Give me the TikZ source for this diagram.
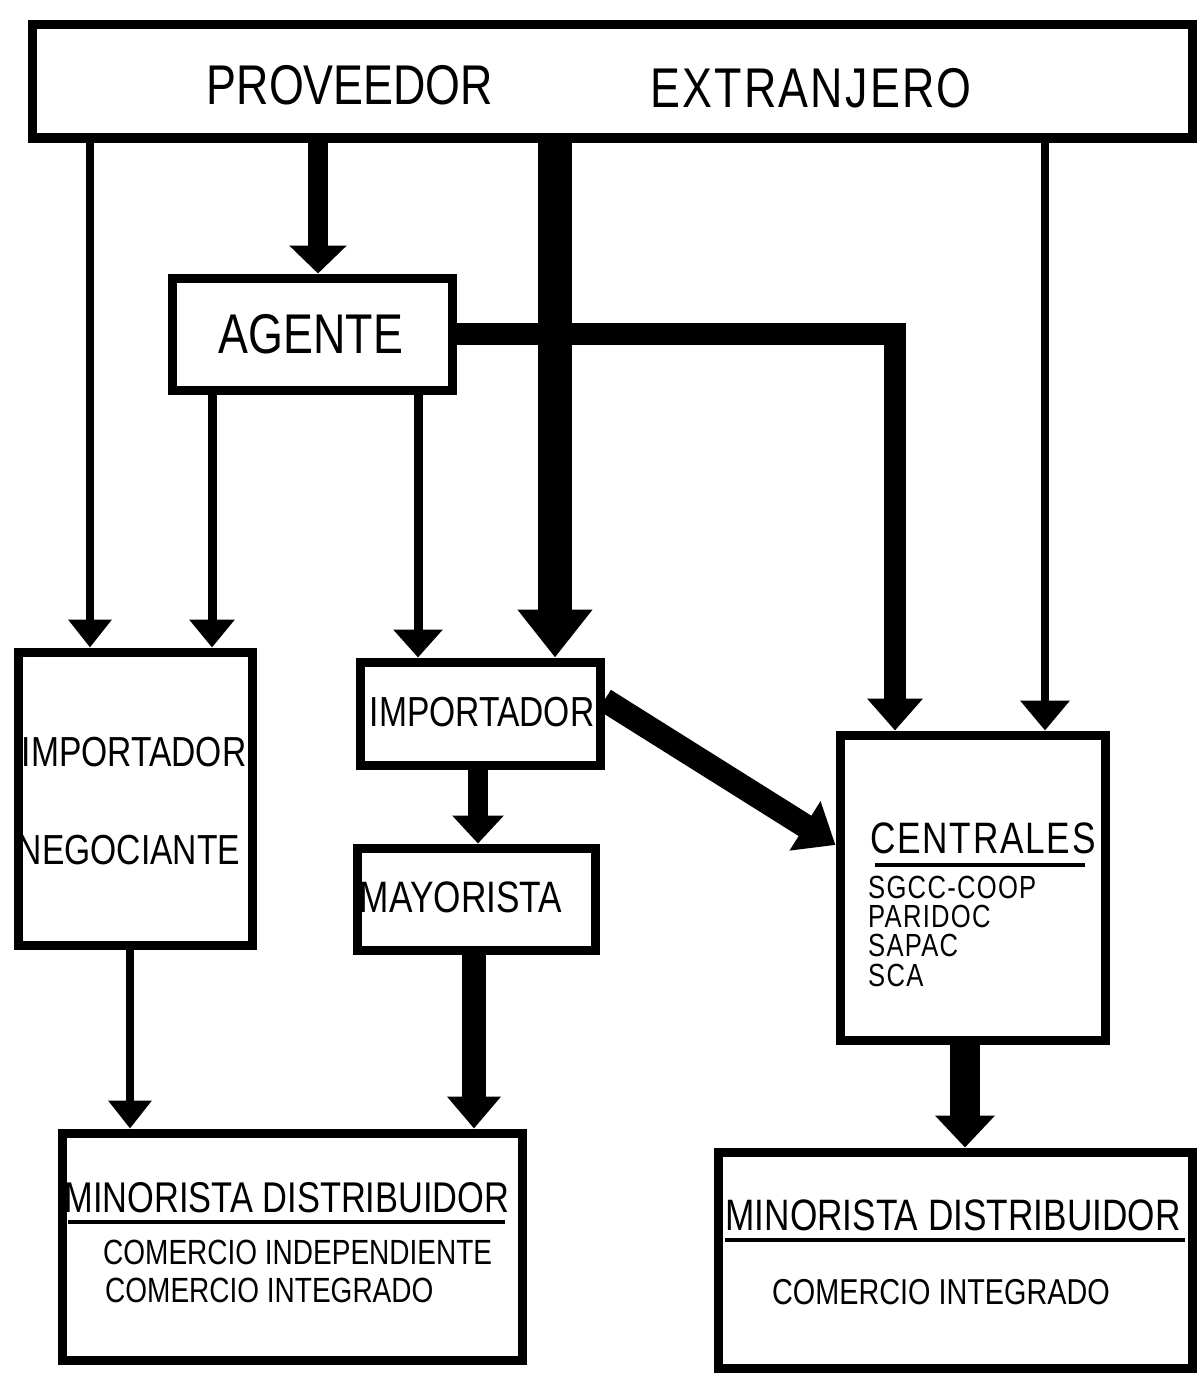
\documentclass[tikz,border=0pt]{standalone}
\usepackage{fontspec}
\setmainfont{Liberation Sans}[FakeStretch=0.8]
\newfontfamily\lsfont{Liberation Sans}[FakeStretch=0.8,LetterSpace=4]
\usetikzlibrary{arrows.meta}
\newcommand\myfs[1]{\fontsize{#1pt}{#1pt}\selectfont}
\begin{document}
\begin{tikzpicture}[x=1pt,y=-1pt,
  box/.style={draw, line width=9pt, rectangle, inner sep=0pt},
  txt/.style={inner sep=0pt},
  conn/.style={line width=#1, line join=miter},
  head/.style 2 args={-{Triangle[width=#1,length=#2]}}
]
\useasboundingbox (0,0) rectangle (1200,1378);
% boxes
\node[box, minimum width=1160pt, minimum height=113pt] (top) at (612,81.5) {};
\node[box, minimum width=280pt, minimum height=112pt] (agente) at (312,334) {};
\node[box, minimum width=234pt, minimum height=293pt] (impneg) at (135,798.5) {};
\node[box, minimum width=240pt, minimum height=103pt] (imp) at (480,713.5) {};
\node[box, minimum width=238pt, minimum height=102pt] (mayor) at (476,899) {};
\node[box, minimum width=265pt, minimum height=305pt] (cent) at (972.5,887.5) {};
\node[box, minimum width=460pt, minimum height=227pt] (minL) at (292,1246.5) {};
\node[box, minimum width=474pt, minimum height=216pt] (minR) at (955,1260) {};
% texts
\node[txt, font=\myfs{56}] (tprov) at (350,85) {PROVEEDOR};
\node[txt, font=\lsfont\myfs{56}] (textr) at (811,88) {EXTRANJERO};
\node[txt, font=\myfs{56}] (tage) at (311,334) {AGENTE};
\node[txt, font=\myfs{42}] (timpn1) at (134,752) {IMPORTADOR};
\node[txt, font=\myfs{42}] (timpn2) at (129,850) {NEGOCIANTE};
\node[txt, font=\myfs{42}] (timp) at (482,712) {IMPORTADOR};
\node[txt, font=\myfs{44}] (tmay) at (461,897) {MAYORISTA};
\node[txt, font=\lsfont\myfs{44}] (tcent) at (983,838) {CENTRALES};
\node[txt, font=\lsfont\myfs{32}, anchor=west] (tc1) at (868,887) {SGCC-COOP};
\node[txt, font=\lsfont\myfs{32}, anchor=west] (tc2) at (868,916) {PARIDOC};
\node[txt, font=\lsfont\myfs{32}, anchor=west] (tc3) at (868,945) {SAPAC};
\node[txt, font=\lsfont\myfs{32}, anchor=west] (tc4) at (868,975) {SCA};
\node[txt, font=\myfs{43}] (tml) at (287,1198) {MINORISTA DISTRIBUIDOR};
\node[txt, font=\myfs{35}, anchor=west] (tml1) at (103,1252) {COMERCIO INDEPENDIENTE};
\node[txt, font=\myfs{35}, anchor=west] (tml2) at (105,1290) {COMERCIO INTEGRADO};
\node[txt, font=\myfs{44}] (tmr) at (953,1215) {MINORISTA DISTRIBUIDOR};
\node[txt, font=\myfs{36}] (tmr1) at (941,1292) {COMERCIO INTEGRADO};
% underlines
\draw[line width=4pt] (875,865) -- (1085,865);
\draw[line width=4pt] (68,1222) -- (505,1222);
\draw[line width=4pt] (725,1240) -- (1185,1240);
% connectors
\draw[conn=7.5pt, head={42pt}{28pt}] (top.south -| 90,0) -- (impneg.north -| 90,0);
\draw[conn=20pt, head={56pt}{28pt}] (top.south -| 318,0) -- (agente.north -| 318,0);
\draw[conn=34pt, head={72pt}{48pt}] (top.south -| 555,0) -- (imp.north -| 555,0);
\draw[conn=7.5pt, head={48pt}{30pt}] (top.south -| 1045,0) -- (cent.north -| 1045,0);
\draw[conn=22pt, head={54pt}{32pt}] (agente.east) -- (895,334) -- (cent.north -| 895,0);
\draw[conn=9pt, head={44pt}{28pt}] (agente.south -| 212,0) -- (impneg.north -| 212,0);
\draw[conn=9pt, head={48pt}{28pt}] (agente.south -| 418,0) -- (imp.north -| 418,0);
\draw[conn=24pt, head={56pt}{36pt}] ([yshift=13.5pt]imp.east) -- (cent.west |- 0,845);
\draw[conn=20pt, head={50pt}{28pt}] (imp.south -| 478,0) -- (mayor.north -| 478,0);
\draw[conn=7.5pt, head={42pt}{28pt}] (impneg.south -| 130,0) -- (minL.north -| 130,0);
\draw[conn=24pt, head={52pt}{32pt}] (mayor.south -| 474,0) -- (minL.north -| 474,0);
\draw[conn=30pt, head={58pt}{32pt}] (cent.south -| 965,0) -- (minR.north -| 965,0);
\end{tikzpicture}
\end{document}
